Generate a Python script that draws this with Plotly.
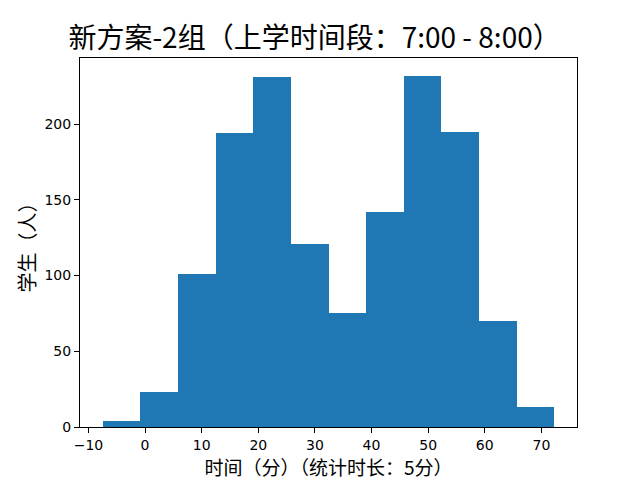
import plotly.graph_objects as go

# Data
bin_start = -7.5
bin_end = 72.3
counts = [4, 23, 101, 194, 231, 121, 75, 142, 232, 195, 70, 13]
x_ticks = [-10, 0, 10, 20, 30, 40, 50, 60, 70]
y_ticks = [0, 50, 100, 150, 200]

title_text = "新方案-2组（上学时间段：7:00 - 8:00）"
x_label = "时间（分）（统计时长：5分）"
y_label = "学生（人）"

n = len(counts)
w = (bin_end - bin_start) / n
lefts = [bin_start + i * w for i in range(n)]

span = bin_end - bin_start
x_range = [bin_start - 0.05 * span, bin_end + 0.05 * span]
y_range = [0, max(counts) * 1.05]

cjk = "Noto Sans CJK SC, DejaVu Sans, sans-serif"
num = "DejaVu Sans, sans-serif"

fig = go.Figure(go.Bar(
    x=lefts, y=counts, width=[w] * n, offset=0,
    marker=dict(color="#1f77b4", line=dict(width=0)),
    hoverinfo="x+y",
))

# the page body has an 8px margin, so the figure is sized to fit the window after that offset
W, H = 632, 472
fig.update_layout(
    width=W, height=H,
    margin=dict(l=72, r=63, t=50, b=53),
    plot_bgcolor="white", paper_bgcolor="white",
    bargap=0, showlegend=False,
    title=dict(text=title_text, x=0.472, xref="paper", xanchor="center",
               y=1 - 30 / H, yref="container", yanchor="middle",
               font=dict(family=cjk, size=28, color="black")),
    font=dict(family=num, size=14, color="black"),
)

fig.update_xaxes(
    range=x_range, tickvals=x_ticks, ticktext=[("−" + str(-t)) if t < 0 else str(t) for t in x_ticks],
    showgrid=False, zeroline=False, automargin=False,
    showline=True, linecolor="black", linewidth=1, mirror=True,
    ticks="outside", ticklen=5, tickcolor="black", tickwidth=1,
    tickfont=dict(family=num, size=14, color="black"),
    title=dict(text=x_label, font=dict(family=cjk, size=19, color="black"), standoff=2),
)
fig.update_yaxes(
    range=y_range, tickvals=y_ticks,
    showgrid=False, zeroline=False, automargin=False,
    showline=True, linecolor="black", linewidth=1, mirror=True,
    ticks="outside", ticklen=5, tickcolor="black", tickwidth=1,
    tickfont=dict(family=num, size=14, color="black"),
    title=dict(text=y_label, font=dict(family=cjk, size=20, color="black"), standoff=3),
)

fig.write_html("out.html")
